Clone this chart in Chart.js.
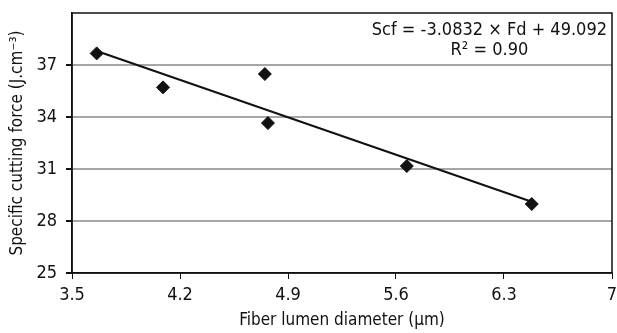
<!DOCTYPE html>
<html>
<head>
<meta charset="utf-8">
<script src="https://cdn.jsdelivr.net/npm/chart.js@4/dist/chart.umd.min.js"></script>
<style>
  html, body { margin: 0; padding: 0; background: #fff; }
  #wrap { width: 617px; height: 333px; }
</style>
</head>
<body>
<div id="wrap"><canvas id="cutChart" width="617" height="333"></canvas></div>
<script>
// Fiber lumen diameter vs specific cutting force

const lumenDiameter = [3.66, 4.09, 4.75, 4.77, 5.67, 6.48];
const cuttingForce = [37.67, 35.71, 36.48, 33.65, 31.17, 28.98];
const fitSlope = -3.0832;
const fitIntercept = 49.092;
const equationText = "Scf = -3.0832 \u00d7 Fd + 49.092";
const r2Text = "R\u00b2 = 0.90";

const fontFamily = "'Liberation Sans Narrow', 'DejaVu Sans Condensed', 'Liberation Sans', sans-serif";

// trendline drawn between the smallest and largest diameter
const xMin = Math.min(...lumenDiameter);
const xMax = Math.max(...lumenDiameter);
const trendPoints = [
    { x: xMin, y: fitSlope * xMin + fitIntercept },
    { x: xMax, y: fitSlope * xMax + fitIntercept }
];

const framePlugin = {
    id: 'frame',
    afterDraw(chart) {
        const a = chart.chartArea;
        const ctx = chart.ctx;
        ctx.save();
        ctx.strokeStyle = '#111';
        ctx.lineWidth = 1.5;
        ctx.strokeRect(a.left, a.top, a.right - a.left, a.bottom - a.top);

        ctx.fillStyle = '#111';
        ctx.font = "18px " + fontFamily;
        ctx.textBaseline = 'middle';
        ctx.textAlign = 'right';
        const right = a.right - 5;
        ctx.fillText(equationText, right, 30);
        const w = ctx.measureText(equationText).width;
        ctx.textAlign = 'center';
        ctx.fillText(r2Text, right - w / 2, 50);
        ctx.restore();
    }
};

// stop the scales from pushing the plot area in for overhanging labels
function noOverhang(s) {
    s.paddingLeft = 0;
    s.paddingRight = 0;
    s.paddingTop = 0;
    s.paddingBottom = 0;
}

const ctx = document.getElementById('cutChart').getContext('2d');
const cutChart = new Chart(ctx, {
    type: 'scatter',
    data: {
        datasets: [
            {
                label: 'trend',
                type: 'line',
                data: trendPoints,
                borderColor: '#111',
                borderWidth: 2,
                pointRadius: 0,
                fill: false
            },
            {
                label: 'Scf',
                data: lumenDiameter.map((d, i) => ({ x: d, y: cuttingForce[i] })),
                pointStyle: 'rectRot',
                pointRadius: 6.5,
                backgroundColor: '#111',
                borderColor: '#111'
            }
        ]
    },
    options: {
        responsive: false,
        animation: false,
        layout: { autoPadding: false, padding: { left: 7, right: 5, top: 13, bottom: 0 } },
        plugins: {
            legend: { display: false },
            tooltip: { enabled: false }
        },
        scales: {
            x: {
                type: 'linear',
                min: 3.5,
                max: 7,
                afterFit: s => { s.height = 60; noOverhang(s); },
                ticks: {
                    stepSize: 0.7,
                    color: '#111',
                    padding: 6,
                    font: { family: fontFamily, size: 18 },
                    callback: v => Number.isInteger(v) ? String(v) : v.toFixed(1)
                },
                grid: { drawOnChartArea: false, tickLength: 6, tickColor: '#111' },
                border: { color: '#111', width: 1.5 },
                title: {
                    display: true,
                    text: 'Fiber lumen diameter (\u00b5m)',
                    color: '#111',
                    font: { family: fontFamily, size: 17 },
                    padding: { top: 0, bottom: 2 }
                }
            },
            y: {
                min: 25,
                max: 40,
                afterFit: s => { s.width = 65; noOverhang(s); },
                ticks: {
                    stepSize: 3,
                    color: '#111',
                    padding: 9,
                    font: { family: fontFamily, size: 18 },
                    callback: v => v === 40 ? '' : String(v)
                },
                grid: {
                    tickLength: 6,
                    tickColor: c => c.tick && c.tick.value === 40 ? 'rgba(0,0,0,0)' : '#111',
                    color: c => (c.tick && (c.tick.value === 25 || c.tick.value === 40)) ? 'rgba(0,0,0,0)' : '#a6a6a6',
                    lineWidth: 2
                },
                border: { color: '#111', width: 1.5 },
                title: {
                    display: true,
                    text: 'Specific cutting force (J.cm\u207b\u00b3)',
                    color: '#111',
                    font: { family: fontFamily, size: 17 },
                    padding: { top: 0, bottom: 2 }
                }
            }
        }
    },
    plugins: [framePlugin]
});
</script>
</body>
</html>
